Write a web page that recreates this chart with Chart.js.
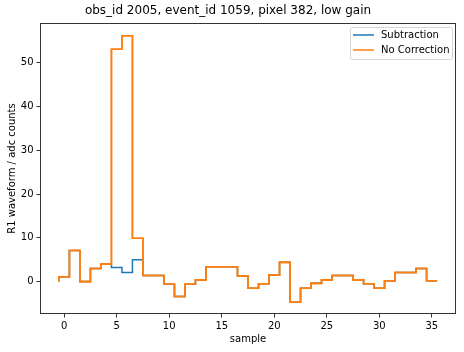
<!DOCTYPE html>
<html>
<head>
<meta charset="utf-8">
<script src="https://cdn.jsdelivr.net/npm/chart.js@4/dist/chart.umd.min.js"></script>
<style>
  body { margin: 0; background: #fff; }
</style>
</head>
<body>
<canvas id="grafico" width="464" height="352"></canvas>
<script>
// waveform samples
const samples = [0, 1, 2, 3, 4, 5, 6, 7, 8, 9, 10, 11, 12, 13, 14, 15, 16, 17,
    18, 19, 20, 21, 22, 23, 24, 25, 26, 27, 28, 29, 30, 31, 32, 33, 34, 35];
const noCorrection = [1.1, 7.1, 0, 3.0, 4.0, 53.1, 56.2, 9.9, 1.4, 1.4, -0.6, -3.4,
    -0.6, 0.4, 3.4, 3.4, 3.4, 1.3, -1.5, -0.5, 1.5, 4.4, -4.7, -1.5,
    -0.4, 0.4, 1.4, 1.4, 0.4, -0.5, -1.5, 0.2, 2.1, 2.1, 3.0, 0.2];
const subtraction = [1.1, 7.1, 0, 3.0, 4.0, 3.2, 2.1, 5.0, 1.4, 1.4, -0.6, -3.4,
    -0.6, 0.4, 3.4, 3.4, 3.4, 1.3, -1.5, -0.5, 1.5, 4.4, -4.7, -1.5,
    -0.4, 0.4, 1.4, 1.4, 0.4, -0.5, -1.5, 0.2, 2.1, 2.1, 3.0, 0.2];
const startValue = 0;
const xTicks = [0, 5, 10, 15, 20, 25, 30, 35];
const yTicks = [0, 10, 20, 30, 40, 50];

const fonte = 'DejaVu Sans';

// step 'pre' style: vertical at the left edge of each sample, then horizontal
function degraus(valores) {
    const pts = [{ x: samples[0] - 0.5, y: startValue }];
    samples.forEach((s, i) => pts.push({ x: s + 0.5, y: valores[i] }));
    return pts;
}

// orange goes over blue: paint it a second time so the blue fringe disappears
const porCima = {
    id: 'porCima',
    afterDatasetsDraw(chart) {
        const ctx = chart.ctx;
        const a = chart.chartArea;
        ctx.save();
        ctx.beginPath();
        ctx.rect(a.left, a.top, a.right - a.left, a.bottom - a.top);
        ctx.clip();
        chart.getDatasetMeta(0).controller.draw();
        ctx.restore();
    }
};

const moldura = {
    id: 'moldura',
    afterDraw(chart) {
        const ctx = chart.ctx;
        const a = chart.chartArea;
        ctx.save();
        ctx.strokeStyle = '#333';
        ctx.lineWidth = 1;
        ctx.strokeRect(Math.round(a.left) + 0.5, Math.round(a.top) + 0.5,
            Math.round(a.right - a.left) - 1, Math.round(a.bottom - a.top) - 1);

        // legend box, matplotlib style
        const x0 = 350, y0 = 27, w = 102, h = 32;
        ctx.fillStyle = 'rgba(255,255,255,0.8)';
        ctx.strokeStyle = '#d6d6d6';
        ctx.beginPath();
        ctx.roundRect(x0 + 0.5, y0 + 0.5, w, h, 2);
        ctx.fill();
        ctx.stroke();
        const itens = [chart.data.datasets[1], chart.data.datasets[0]];
        ctx.font = '10px "' + fonte + '"';
        ctx.textBaseline = 'middle';
        itens.forEach((ds, i) => {
            const y = y0 + 8 + i * 15;
            ctx.strokeStyle = ds.borderColor;
            ctx.lineWidth = 1.5;
            ctx.beginPath();
            ctx.moveTo(x0 + 3, y);
            ctx.lineTo(x0 + 24, y);
            ctx.stroke();
            ctx.fillStyle = '#000';
            ctx.fillText(ds.label, x0 + 31, y);
        });
        ctx.restore();
    }
};

const ctxGrafico = document.getElementById('grafico').getContext('2d');
const grafico = new Chart(ctxGrafico, {
    type: 'line',
    data: {
        datasets: [{
            label: 'No Correction',
            data: degraus(noCorrection),
            borderColor: '#ff7f0e',
            borderWidth: 1.6,
            stepped: 'after',
            pointRadius: 0,
            fill: false
        }, {
            label: 'Subtraction',
            data: degraus(subtraction),
            borderColor: '#1f77b4',
            borderWidth: 1.5,
            stepped: 'after',
            pointRadius: 0,
            fill: false
        }]
    },
    options: {
        responsive: false,
        animation: false,
        layout: { padding: { left: 0, right: 8, top: 0, bottom: 0 } },
        plugins: {
            legend: { display: false },
            tooltip: { enabled: false },
            title: {
                display: true,
                text: 'obs_id 2005, event_id 1059, pixel 382, low gain',
                color: '#000',
                font: { family: fonte, size: 12, weight: 'normal' },
                padding: { top: 4, bottom: 4.6 }
            }
        },
        scales: {
            x: {
                type: 'linear',
                min: -2.3,
                max: 37.3,
                afterBuildTicks: (s) => { s.ticks = xTicks.map(v => ({ value: v })); },
                afterFit: (s) => { s.height = 38; },
                border: { display: false },
                grid: { drawOnChartArea: false, drawTicks: true, tickLength: 3.5, color: '#333' },
                ticks: { color: '#000', padding: 3, font: { family: fonte, size: 10 } },
                title: {
                    display: true, text: 'sample', color: '#000',
                    font: { family: fonte, size: 10 }, padding: { top: 0, bottom: 7 }
                }
            },
            y: {
                min: -7.4,
                max: 59.1,
                afterBuildTicks: (s) => { s.ticks = yTicks.map(v => ({ value: v })); },
                afterFit: (s) => { s.width = 40; },
                border: { display: false },
                grid: { drawOnChartArea: false, drawTicks: true, tickLength: 3.5, color: '#333' },
                ticks: { color: '#000', padding: 3, font: { family: fonte, size: 10 } },
                title: {
                    display: true, text: 'R1 waveform / adc counts', color: '#000',
                    font: { family: fonte, size: 10 }, padding: { top: 6, bottom: 0 }
                }
            }
        }
    },
    plugins: [porCima, moldura]
});
</script>
</body>
</html>
